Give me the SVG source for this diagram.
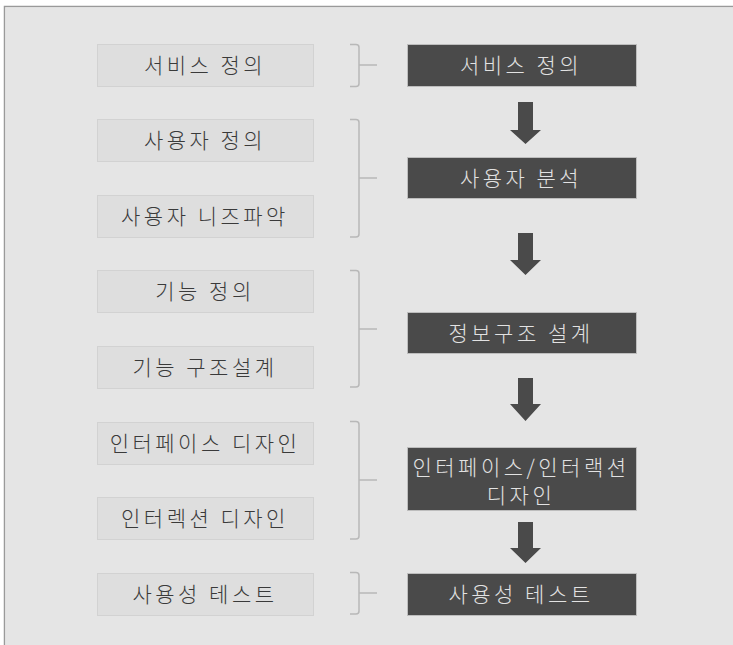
<svg xmlns="http://www.w3.org/2000/svg" width="733" height="645" viewBox="0 0 733 645">
<style>
.bg{fill:#e5e5e5;stroke:#9a9a9a;stroke-width:1.5}
.lb rect{fill:#dedede;stroke:#d2d2d2;stroke-width:1}
.lb text{fill:#3a3a3a}
.rb rect{fill:#4a4a4a;stroke:#bdbdbd;stroke-width:1}
.rb text{fill:#e2e2e2}
text{font-family:"Noto Sans CJK KR","Noto Sans CJK SC",sans-serif;font-size:21px;font-weight:300;letter-spacing:3.5px;text-anchor:middle}
.br{fill:none;stroke:#b8b8b8;stroke-width:1.5}
.ar{fill:#4a4a4a}
</style>
<rect x="0" y="0" width="733" height="645" fill="#ffffff"/>
<path class="bg" d="M4.5,650 V6.5 H740"/>
<rect x="5.25" y="7.25" width="740" height="650" fill="#e5e5e5"/>

<g id="left-service" class="lb"><rect x="97.5" y="44.5" width="216" height="42"/><text x="205" y="73">서비스 정의</text></g>
<g id="left-user-def" class="lb"><rect x="97.5" y="119.5" width="216" height="42"/><text x="205" y="148">사용자 정의</text></g>
<g id="left-user-needs" class="lb"><rect x="97.5" y="195.5" width="216" height="42"/><text x="205" y="224">사용자 니즈파악</text></g>
<g id="left-func-def" class="lb"><rect x="97.5" y="270.5" width="216" height="42"/><text x="205" y="299">기능 정의</text></g>
<g id="left-func-struct" class="lb"><rect x="97.5" y="346.5" width="216" height="42"/><text x="205" y="375">기능 구조설계</text></g>
<g id="left-interface" class="lb"><rect x="97.5" y="422.5" width="216" height="42"/><text x="205" y="451">인터페이스 디자인</text></g>
<g id="left-interaction" class="lb"><rect x="97.5" y="497.5" width="216" height="42"/><text x="205" y="526">인터렉션 디자인</text></g>
<g id="left-usability" class="lb"><rect x="97.5" y="573.5" width="216" height="42"/><text x="205" y="602">사용성 테스트</text></g>

<g id="right-service" class="rb"><rect x="407.5" y="44.5" width="229" height="42"/><text x="521" y="73">서비스 정의</text></g>
<g id="right-user" class="rb"><rect x="407.5" y="157.5" width="229" height="41"/><text x="521" y="185.5">사용자 분석</text></g>
<g id="right-ia" class="rb"><rect x="407.5" y="312.5" width="229" height="41"/><text x="521" y="340.5">정보구조 설계</text></g>
<g id="right-ui" class="rb"><rect x="407.5" y="447.5" width="229" height="63"/><text x="521" y="474.5">인터페이스/인터랙션</text><text x="521" y="502.5">디자인</text></g>
<g id="right-usability" class="rb"><rect x="407.5" y="573.5" width="229" height="42"/><text x="521" y="602">사용성 테스트</text></g>

<g id="connectors">
<path class="br" d="M350,44.5 H356 Q359,44.5 359,47.5 V83.5 Q359,86.5 356,86.5 H350 M359,65 H377"/>
<path class="br" d="M350,119.5 H356 Q359,119.5 359,122.5 V234 Q359,237 356,237 H350 M359,178 H377"/>
<path class="br" d="M350,270.5 H356 Q359,270.5 359,273.5 V384 Q359,387 356,387 H350 M359,329 H377"/>
<path class="br" d="M350,421.5 H356 Q359,421.5 359,424.5 V536 Q359,539 356,539 H350 M359,480 H377"/>
<path class="br" d="M350,572.5 H356 Q359,572.5 359,575.5 V611 Q359,614 356,614 H350 M359,593 H377"/>
<path class="ar" d="M518,102 H533 V130 H541 L525.5,144 L510,130 H518 Z"/>
<path class="ar" d="M518,233 H533 V260 H541 L525.5,275 L510,260 H518 Z"/>
<path class="ar" d="M518,378 H533 V404 H541 L525.5,421 L510,404 H518 Z"/>
<path class="ar" d="M518,522 H533 V548 H541 L525.5,563 L510,548 H518 Z"/>
</g>
</svg>
